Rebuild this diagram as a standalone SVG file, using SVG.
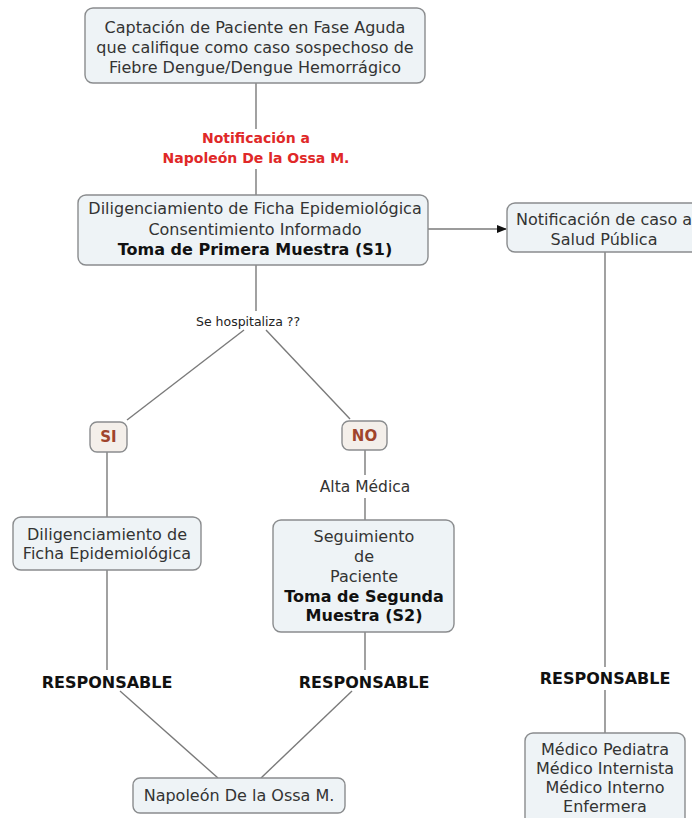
<svg xmlns="http://www.w3.org/2000/svg" width="692" height="818" viewBox="0 0 692 818">
<style>
.box{fill:#eef3f6;stroke:#8a8c8e;stroke-width:1.4}
.t{font-family:"DejaVu Sans",Verdana,sans-serif;font-size:16px;fill:#333;text-anchor:middle}
.b{font-weight:bold;fill:#111}
.lbl{font-family:"DejaVu Sans",Verdana,sans-serif;text-anchor:middle}
.c{stroke:#7a7a7a;stroke-width:1.4;fill:none}
</style>
<defs>
<marker id="ah" markerWidth="10" markerHeight="10" refX="9" refY="5" orient="auto" markerUnits="userSpaceOnUse">
<path d="M0,1 L10,5 L0,9 Z" fill="#111"/>
</marker>
</defs>
<rect width="692" height="818" fill="#fff"/>
<g id="connectors">
<line class="c" x1="256" y1="83" x2="256" y2="129"/>
<line class="c" x1="256" y1="169" x2="256" y2="195"/>
<line class="c" x1="428" y1="229" x2="506" y2="229" marker-end="url(#ah)"/>
<line class="c" x1="256" y1="265" x2="256" y2="311"/>
<line class="c" x1="244" y1="330" x2="127" y2="420"/>
<line class="c" x1="266" y1="330" x2="350" y2="419"/>
<line class="c" x1="107" y1="452" x2="107" y2="517"/>
<line class="c" x1="365" y1="450" x2="365" y2="475"/>
<line class="c" x1="365" y1="498" x2="365" y2="520"/>
<line class="c" x1="107" y1="570" x2="107" y2="670"/>
<line class="c" x1="365" y1="632" x2="365" y2="670"/>
<line class="c" x1="120" y1="691" x2="218" y2="778"/>
<line class="c" x1="352" y1="691" x2="261" y2="778"/>
<line class="c" x1="605" y1="252" x2="605" y2="667"/>
<line class="c" x1="605" y1="690" x2="605" y2="733"/>
</g>
<g id="labels">
<text class="lbl" x="256" y="143" font-size="14" font-weight="bold" fill="#e02828">Notificación a</text>
<text class="lbl" x="256" y="163" font-size="14" font-weight="bold" fill="#e02828">Napoleón De la Ossa M.</text>
<text class="lbl" x="248" y="326" font-size="12.5" fill="#222">Se hospitaliza ??</text>
<text class="lbl" x="365" y="492" font-size="15.5" fill="#333">Alta Médica</text>
<text class="lbl" x="107" y="688" font-size="16" font-weight="bold" fill="#111">RESPONSABLE</text>
<text class="lbl" x="364" y="688" font-size="16" font-weight="bold" fill="#111">RESPONSABLE</text>
<text class="lbl" x="605" y="684" font-size="16" font-weight="bold" fill="#111">RESPONSABLE</text>
</g>
<g id="n1">
<rect class="box" x="85" y="8" width="340" height="75" rx="8"/>
<text class="t" x="255" y="33">Captación de Paciente en Fase Aguda</text>
<text class="t" x="255" y="53">que califique como caso sospechoso de</text>
<text class="t" x="255" y="73">Fiebre Dengue/Dengue Hemorrágico</text>
</g>
<g id="n2">
<rect class="box" x="78" y="195" width="350" height="70" rx="8"/>
<text class="t" x="255" y="214">Diligenciamiento de Ficha Epidemiológica</text>
<text class="t" x="255" y="235">Consentimiento Informado</text>
<text class="t b" x="255" y="255">Toma de Primera Muestra (S1)</text>
</g>
<g id="n3">
<rect class="box" x="507" y="203" width="200" height="49" rx="8"/>
<text class="t" x="604" y="225">Notificación de caso a</text>
<text class="t" x="604" y="245">Salud Pública</text>
</g>
<g id="si">
<rect x="90" y="422" width="37" height="30" rx="7" fill="#f4efea" stroke="#8a8c8e" stroke-width="1.4"/>
<text class="lbl" x="108.5" y="442" font-size="15" font-weight="bold" fill="#a0442c">SI</text>
</g>
<g id="no">
<rect x="342" y="421" width="45" height="29" rx="7" fill="#f4efea" stroke="#8a8c8e" stroke-width="1.4"/>
<text class="lbl" x="364.5" y="441" font-size="15" font-weight="bold" fill="#a0442c">NO</text>
</g>
<g id="n4">
<rect class="box" x="13" y="517" width="188" height="53" rx="8"/>
<text class="t" x="107" y="540">Diligenciamiento de</text>
<text class="t" x="107" y="559">Ficha Epidemiológica</text>
</g>
<g id="n5">
<rect class="box" x="273" y="520" width="181" height="112" rx="8"/>
<text class="t" x="364" y="542">Seguimiento</text>
<text class="t" x="364" y="562">de</text>
<text class="t" x="364" y="582">Paciente</text>
<text class="t b" x="364" y="602">Toma de Segunda</text>
<text class="t b" x="364" y="621">Muestra (S2)</text>
</g>
<g id="n6">
<rect class="box" x="133" y="778" width="212" height="35" rx="7"/>
<text class="t" x="239" y="801" fill="#d83a3a">Napoleón De la Ossa M.</text>
</g>
<g id="n7">
<rect class="box" x="525" y="733" width="160" height="100" rx="8"/>
<text class="t" x="605" y="755">Médico Pediatra</text>
<text class="t" x="605" y="774">Médico Internista</text>
<text class="t" x="605" y="793">Médico Interno</text>
<text class="t" x="605" y="812">Enfermera</text>
</g>
</svg>
